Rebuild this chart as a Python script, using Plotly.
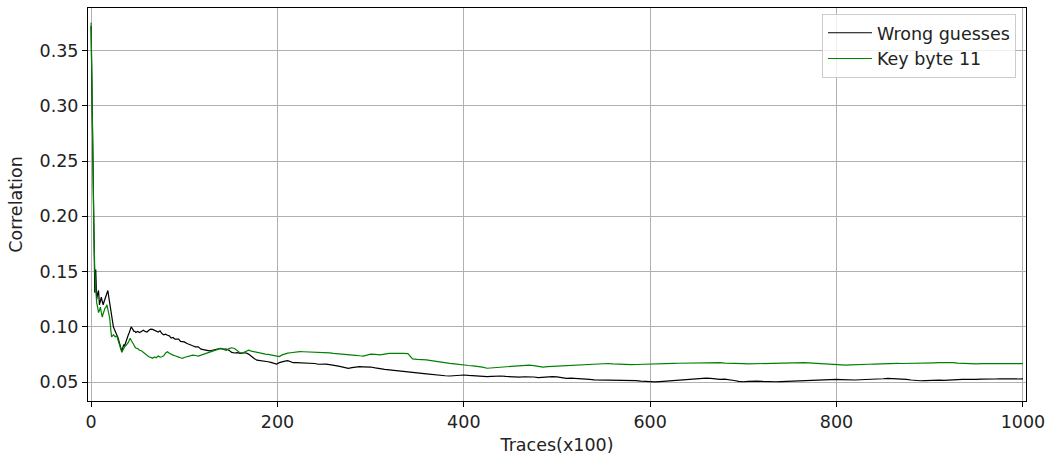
import plotly.graph_objects as go

# x grid (Traces x100)
traces = (list(range(0, 49, 1)) + list(range(50, 101, 2)) + list(range(103, 221, 3))
          + list(range(224, 301, 4)) + list(range(305, 1001, 5)))

wrong_guesses = [
    # 0..48
    0.372, 0.31, 0.245, 0.19, 0.131, 0.152, 0.125, 0.130, 0.133, 0.120,
    0.124, 0.127, 0.123, 0.120, 0.123, 0.126, 0.128, 0.131, 0.133, 0.127,
    0.121, 0.115, 0.109, 0.104, 0.100, 0.098, 0.096, 0.094, 0.093, 0.090,
    0.087, 0.083, 0.080, 0.078, 0.081, 0.084, 0.083, 0.086, 0.088, 0.090,
    0.093, 0.095, 0.098, 0.100, 0.099, 0.097, 0.096, 0.096, 0.095,
    # 50..100 step 2
    0.096, 0.095, 0.096, 0.097, 0.096, 0.0955, 0.097, 0.098, 0.0978, 0.097,
    0.096, 0.0955, 0.0965, 0.094, 0.093, 0.0935, 0.0925, 0.092, 0.090, 0.0905,
    0.089, 0.0888, 0.089, 0.087, 0.0866, 0.0865,
    # 103..220 step 3
    0.085, 0.0843, 0.083, 0.0821, 0.082, 0.080, 0.0795, 0.079, 0.0785, 0.079,
    0.0798, 0.0805, 0.0807, 0.080, 0.080, 0.079, 0.077, 0.0765, 0.0768, 0.0762,
    0.0765, 0.0767, 0.0755, 0.0731, 0.0715, 0.0700, 0.0698, 0.0695, 0.069, 0.0686,
    0.068, 0.0672, 0.0665, 0.0678, 0.0686, 0.0692, 0.0695, 0.0685, 0.0677, 0.0678,
    # 224..300 step 4
    0.0677, 0.0672, 0.0671, 0.0673, 0.0670, 0.0663, 0.0665, 0.0665, 0.066, 0.0656,
    0.0648, 0.0641, 0.0632, 0.0626, 0.0633, 0.0638, 0.0641, 0.0640, 0.0641, 0.0638,
    # 305..1000 step 5
    0.0630, 0.0620, 0.0617, 0.0612, 0.0607, 0.0604, 0.0598, 0.0590, 0.0586, 0.0583,
    0.0581, 0.0577, 0.0571, 0.0566, 0.0562, 0.0559, 0.0557, 0.0561, 0.0564, 0.0566,
    0.0562, 0.0558, 0.0557, 0.0553, 0.0551, 0.0553, 0.0556, 0.0557, 0.0553, 0.0549,
    0.0545, 0.0547, 0.0550, 0.0551, 0.0548, 0.0543, 0.0546, 0.0550, 0.0551, 0.0549,
    0.0541, 0.0536, 0.0538, 0.0536, 0.0536, 0.0531, 0.0527, 0.0522, 0.0521, 0.0523,
    0.0521, 0.0519, 0.0521, 0.0522, 0.0518, 0.0516, 0.0515, 0.0511, 0.0507, 0.0505,
    0.0503, 0.0507, 0.0510, 0.0512, 0.0516, 0.0522, 0.0527, 0.0530, 0.0533, 0.0535,
    0.0536, 0.0537, 0.0536, 0.0531, 0.0527, 0.0528, 0.0524, 0.0516, 0.0509, 0.0505,
    0.0508, 0.0511, 0.0510, 0.0508, 0.0505, 0.0504, 0.0505, 0.0507, 0.0509, 0.0511,
    0.0510, 0.0511, 0.0514, 0.0517, 0.0519, 0.0521, 0.0523, 0.0525, 0.0527, 0.0527,
    0.0525, 0.0522, 0.0521, 0.0521, 0.0523, 0.0524, 0.0526, 0.0527, 0.0528, 0.0532,
    0.0536, 0.0535, 0.0533, 0.0530, 0.0526, 0.0521, 0.0516, 0.0514, 0.0516, 0.0519,
    0.0521, 0.0520, 0.0518, 0.0521, 0.0524, 0.0526, 0.0527, 0.0526, 0.0524, 0.0526,
    0.0528, 0.0527, 0.0529, 0.0530, 0.0531, 0.0529, 0.0530, 0.0531, 0.0530, 0.0531,
]

key_byte_11 = [
    # 0..48
    0.375, 0.30, 0.235, 0.185, 0.150, 0.135, 0.122, 0.118, 0.113, 0.115,
    0.118, 0.113, 0.109, 0.112, 0.115, 0.117, 0.118, 0.120, 0.116, 0.112,
    0.108, 0.099, 0.091, 0.092, 0.093, 0.092, 0.091, 0.092, 0.091, 0.088,
    0.085, 0.081, 0.078, 0.077, 0.079, 0.081, 0.082, 0.083, 0.084, 0.084,
    0.086, 0.088, 0.0897, 0.088, 0.086, 0.084, 0.0837, 0.082, 0.081,
    # 50..100 step 2
    0.0805, 0.079, 0.0785, 0.077, 0.0755, 0.074, 0.0731, 0.0725, 0.0717, 0.073,
    0.0722, 0.0737, 0.0728, 0.0731, 0.074, 0.0765, 0.0776, 0.0762, 0.0752, 0.0746,
    0.074, 0.0731, 0.0728, 0.0722, 0.0717, 0.0724,
    # 103..220 step 3
    0.0731, 0.074, 0.0746, 0.0742, 0.0737, 0.0745, 0.0755, 0.0762, 0.0775, 0.0785,
    0.079, 0.0798, 0.0807, 0.0798, 0.079, 0.0805, 0.0812, 0.0806, 0.0785, 0.0766,
    0.0767, 0.0778, 0.079, 0.0782, 0.0776, 0.077, 0.0762, 0.076, 0.0755, 0.0752,
    0.0748, 0.0745, 0.0735, 0.0733, 0.0748, 0.0758, 0.0763, 0.0767, 0.0772, 0.0776,
    # 224..300 step 4
    0.0778, 0.0776, 0.0775, 0.0777, 0.0776, 0.0772, 0.0770, 0.0771, 0.0766, 0.0762,
    0.0760, 0.0757, 0.0755, 0.0752, 0.0747, 0.0744, 0.074, 0.0737, 0.0745, 0.0755,
    # 305..1000 step 5
    0.0752, 0.0748, 0.0755, 0.0762, 0.0761, 0.0763, 0.0762, 0.0760, 0.0712, 0.0708,
    0.0708, 0.0703, 0.0696, 0.0688, 0.0682, 0.0676, 0.0671, 0.0666, 0.0660, 0.0656,
    0.0652, 0.0649, 0.0646, 0.0637, 0.0627, 0.0630, 0.0635, 0.0638, 0.0642, 0.0647,
    0.0648, 0.0651, 0.0653, 0.0656, 0.0651, 0.0642, 0.0637, 0.0641, 0.0643, 0.0646,
    0.0648, 0.0650, 0.0652, 0.0654, 0.0656, 0.0660, 0.0664, 0.0666, 0.0669, 0.0671,
    0.0670, 0.0667, 0.0664, 0.0662, 0.0662, 0.0660, 0.0661, 0.0663, 0.0662, 0.0662,
    0.0664, 0.0666, 0.0669, 0.0671, 0.0671, 0.0672, 0.0673, 0.0675, 0.0676, 0.0677,
    0.0678, 0.0677, 0.0677, 0.0678, 0.0677, 0.0674, 0.0671, 0.0670, 0.0669, 0.0668,
    0.0667, 0.0668, 0.0670, 0.0672, 0.0674, 0.0676, 0.0677, 0.0678, 0.0678, 0.0677,
    0.0677, 0.0678, 0.0677, 0.0675, 0.0672, 0.0669, 0.0667, 0.0664, 0.0660, 0.0657,
    0.0656, 0.0656, 0.0657, 0.0660, 0.0662, 0.0662, 0.0663, 0.0665, 0.0667, 0.0670,
    0.0671, 0.0672, 0.0671, 0.0670, 0.0670, 0.0671, 0.0672, 0.0673, 0.0674, 0.0675,
    0.0676, 0.0677, 0.0678, 0.0679, 0.0677, 0.0673, 0.0670, 0.0668, 0.0667, 0.0667,
    0.0668, 0.0669, 0.0669, 0.0668, 0.0669, 0.0670, 0.0671, 0.0670, 0.0669, 0.0668,
]

assert len(traces) == len(wrong_guesses) == len(key_byte_11), (len(traces), len(wrong_guesses), len(key_byte_11))

x_ticks = [0, 200, 400, 600, 800, 1000]
y_ticks = [0.05, 0.10, 0.15, 0.20, 0.25, 0.30, 0.35]

FONT = "DejaVu Sans"
FS = 17.5

fig = go.Figure()
fig.add_trace(go.Scatter(x=traces, y=wrong_guesses, mode="lines", name="Wrong guesses",
                         line=dict(color="black", width=1.2)))
fig.add_trace(go.Scatter(x=traces, y=key_byte_11, mode="lines", name="Key byte 11",
                         line=dict(color="green", width=1.2)))

axis_common = dict(
    showgrid=True, gridcolor="#b0b0b0", gridwidth=1,
    showline=True, linecolor="black", linewidth=1, mirror=True,
    ticks="outside", ticklen=5, tickwidth=1, tickcolor="black",
    zeroline=False, automargin=False,
    tickfont=dict(family=FONT, size=FS, color="#222222"),
)

fig.update_layout(
    template="none",
    width=1047, height=457,
    margin=dict(l=88, r=21, t=8, b=56, autoexpand=False),
    paper_bgcolor="white", plot_bgcolor="white",
    font=dict(family=FONT, size=FS, color="#222222"),
    showlegend=True,
    legend=dict(
        x=0.9893, y=0.985, xanchor="right", yanchor="top",
        bgcolor="rgba(255,255,255,0.8)", bordercolor="#cccccc", borderwidth=1,
        font=dict(family=FONT, size=FS, color="#222222"),
        itemwidth=44,
    ),
    xaxis=dict(range=[-3.3, 1003.3], tickvals=x_ticks,
               title=dict(text="Traces(x100)", font=dict(family=FONT, size=FS), standoff=7),
               **axis_common),
    yaxis=dict(range=[0.0331, 0.3883], tickvals=y_ticks, tickformat=".2f",
               title=dict(text="Correlation", font=dict(family=FONT, size=FS), standoff=12),
               **axis_common),
)

fig.write_html("out.html")
